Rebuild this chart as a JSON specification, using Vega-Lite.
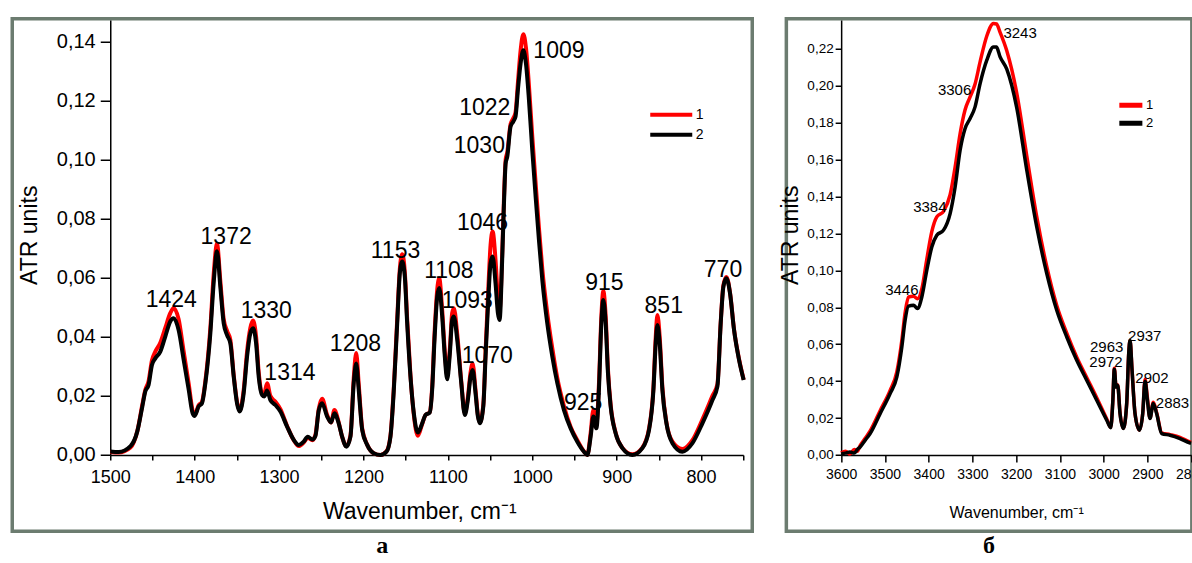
{
  "$schema": "https://vega.github.io/schema/vega-lite/v6.json",
  "background": "white",
  "padding": {"left": 10.25, "top": 13.75, "right": 0, "bottom": 0},
  "spacing": 23.1,
  "config": {
    "font": "Liberation Sans",
    "view": {"stroke": "#6c7c70", "strokeWidth": 3.5},
    "axis": {"grid": false, "domainColor": "black", "tickColor": "black", "labelColor": "black", "titleColor": "black", "domainWidth": 1.5, "tickWidth": 1.5, "titleFontWeight": "normal", "labelFlush": false, "labelOverlap": false, "labelFont": "Liberation Sans", "titleFont": "Liberation Sans"},
    "legend": {"padding": 0, "title": null, "labelFont": "Liberation Sans", "labelColor": "black"},
    "title": {"color": "black"}
  },
  "resolve": {"scale": {"color": "independent", "x": "independent", "y": "independent"}, "legend": {"color": "independent"}},
  "datasets": {
    "a": [
      {"w":1500,"1":0.001,"2":0.0012},{"w":1490,"1":0.0008,"2":0.001},{"w":1476,"1":0.0025,"2":0.003},{"w":1468,"1":0.008,"2":0.0079},
      {"w":1462,"1":0.017,"2":0.0164},{"w":1458.5,"1":0.022,"2":0.0215},{"w":1454.6,"1":0.025,"2":0.0237},{"w":1450.6,"1":0.032,"2":0.0305},
      {"w":1446.6,"1":0.035,"2":0.0327},{"w":1440.7,"1":0.038,"2":0.035},{"w":1434.8,"1":0.043,"2":0.0401},{"w":1428.9,"1":0.048,"2":0.0452},
      {"w":1425,"1":0.0497,"2":0.0463},{"w":1419,"1":0.046,"2":0.0423},{"w":1413,"1":0.035,"2":0.0322},{"w":1407,"1":0.024,"2":0.022},
      {"w":1402.4,"1":0.015,"2":0.0141},{"w":1400,"1":0.0135,"2":0.0132},{"w":1395.3,"1":0.0168,"2":0.0164},{"w":1391.3,"1":0.018,"2":0.0175},
      {"w":1387.3,"1":0.025,"2":0.0243},{"w":1381.4,"1":0.043,"2":0.0412},{"w":1377.5,"1":0.061,"2":0.0581},{"w":1373.5,"1":0.0715,"2":0.069},
      {"w":1369.6,"1":0.059,"2":0.057},{"w":1365.6,"1":0.046,"2":0.0446},{"w":1361.6,"1":0.042,"2":0.0406},{"w":1357.7,"1":0.039,"2":0.0378},
      {"w":1353.7,"1":0.027,"2":0.0265},{"w":1349.8,"1":0.018,"2":0.0175},{"w":1346.7,"1":0.015,"2":0.0147},{"w":1341.9,"1":0.022,"2":0.0209},
      {"w":1337.9,"1":0.035,"2":0.0333},{"w":1334,"1":0.043,"2":0.0412},{"w":1330.8,"1":0.0455,"2":0.0429},{"w":1327.2,"1":0.04,"2":0.0378},
      {"w":1324.1,"1":0.028,"2":0.0265},{"w":1320.1,"1":0.021,"2":0.0203},{"w":1317.4,"1":0.021,"2":0.0198},{"w":1314.2,"1":0.0243,"2":0.0218},
      {"w":1310.3,"1":0.02,"2":0.0186},{"w":1304.3,"1":0.018,"2":0.0169},{"w":1298.4,"1":0.0155,"2":0.0147},{"w":1290.5,"1":0.0098,"2":0.0096},
      {"w":1282.6,"1":0.005,"2":0.0051},{"w":1276.7,"1":0.003,"2":0.0034},{"w":1270.8,"1":0.0042,"2":0.0045},{"w":1266,"1":0.0058,"2":0.0062},
      {"w":1260.5,"1":0.005,"2":0.0052},{"w":1256.9,"1":0.0068,"2":0.0064},{"w":1253,"1":0.0155,"2":0.015},{"w":1249,"1":0.019,"2":0.0175},
      {"w":1243,"1":0.0135,"2":0.013},{"w":1238.4,"1":0.011,"2":0.011},{"w":1234.4,"1":0.0152,"2":0.0141},{"w":1229.3,"1":0.011,"2":0.0107},
      {"w":1225.3,"1":0.0062,"2":0.0062},{"w":1220.2,"1":0.003,"2":0.0028},{"w":1215.4,"1":0.0065,"2":0.0062},{"w":1211.5,"1":0.026,"2":0.0243},
      {"w":1208.6,"1":0.0345,"2":0.031},{"w":1205.6,"1":0.024,"2":0.022},{"w":1201.5,"1":0.009,"2":0.0085},{"w":1195.6,"1":0.0035,"2":0.0034},
      {"w":1187.8,"1":0.0006,"2":0.0006},{"w":1179.8,"1":0.0,"2":0.0},{"w":1172.7,"1":0.0012,"2":0.0011},{"w":1168,"1":0.0065,"2":0.0062},
      {"w":1164,"1":0.023,"2":0.022},{"w":1160,"1":0.046,"2":0.0446},{"w":1156.9,"1":0.063,"2":0.0615},{"w":1154.1,"1":0.068,"2":0.0655},
      {"w":1151,"1":0.062,"2":0.0604},{"w":1148.2,"1":0.046,"2":0.0446},{"w":1144.3,"1":0.027,"2":0.0265},{"w":1140.3,"1":0.0135,"2":0.0141},
      {"w":1135.6,"1":0.0065,"2":0.0076},{"w":1130.4,"1":0.0105,"2":0.0107},{"w":1126.5,"1":0.0135,"2":0.0135},{"w":1121.4,"1":0.0145,"2":0.0144},
      {"w":1118.6,"1":0.023,"2":0.022},{"w":1115.8,"1":0.041,"2":0.039},{"w":1112.6,"1":0.056,"2":0.0536},{"w":1110.2,"1":0.0598,"2":0.0565},
      {"w":1106.7,"1":0.049,"2":0.0469},{"w":1103.6,"1":0.035,"2":0.0333},{"w":1100.8,"1":0.027,"2":0.0256},{"w":1097.6,"1":0.036,"2":0.0344},
      {"w":1094.9,"1":0.048,"2":0.0457},{"w":1092.9,"1":0.0497,"2":0.0469},{"w":1088.9,"1":0.041,"2":0.039},{"w":1084.1,"1":0.025,"2":0.0243},
      {"w":1079.9,"1":0.014,"2":0.0135},{"w":1076.3,"1":0.0195,"2":0.0186},{"w":1073.1,"1":0.028,"2":0.0265},{"w":1070.7,"1":0.031,"2":0.0288},
      {"w":1067.2,"1":0.022,"2":0.0209},{"w":1064.4,"1":0.0135,"2":0.013},{"w":1062.1,"1":0.011,"2":0.0107},{"w":1058,"1":0.017,"2":0.0164},
      {"w":1055.3,"1":0.035,"2":0.0333},{"w":1052.1,"1":0.056,"2":0.0525},{"w":1049.4,"1":0.071,"2":0.0649},{"w":1047,"1":0.0757,"2":0.0672},
      {"w":1043.5,"1":0.066,"2":0.0581},{"w":1040.7,"1":0.053,"2":0.048},{"w":1038.7,"1":0.049,"2":0.0457},{"w":1035.5,"1":0.069,"2":0.0672},
      {"w":1033.5,"1":0.087,"2":0.0852},{"w":1031.5,"1":0.1,"2":0.0988},{"w":1029.6,"1":0.1025,"2":0.101},{"w":1025.7,"1":0.112,"2":0.1112},
      {"w":1022.5,"1":0.114,"2":0.1129},{"w":1019.8,"1":0.116,"2":0.1146},{"w":1017,"1":0.126,"2":0.1236},{"w":1013.8,"1":0.137,"2":0.1326},
      {"w":1010.6,"1":0.1425,"2":0.137},{"w":1007.5,"1":0.138,"2":0.1326},{"w":1003.9,"1":0.125,"2":0.1202},{"w":1000,"1":0.108,"2":0.1033},
      {"w":996,"1":0.092,"2":0.0875},{"w":992.1,"1":0.077,"2":0.0728},{"w":988.1,"1":0.063,"2":0.0593},{"w":982.2,"1":0.048,"2":0.0446},
      {"w":976.2,"1":0.036,"2":0.0333},{"w":970.3,"1":0.026,"2":0.0243},{"w":962.4,"1":0.0165,"2":0.0152},{"w":954.5,"1":0.0095,"2":0.009},
      {"w":946.6,"1":0.005,"2":0.0045},{"w":938.7,"1":0.0012,"2":0.0011},{"w":934.7,"1":0.0,"2":0.0},{"w":930.8,"1":0.0075,"2":0.0062},
      {"w":927.6,"1":0.0152,"2":0.013},{"w":924,"1":0.0105,"2":0.009},{"w":921,"1":0.024,"2":0.022},{"w":918.1,"1":0.047,"2":0.0446},
      {"w":915.8,"1":0.0555,"2":0.0525},{"w":913,"1":0.047,"2":0.0446},{"w":910.3,"1":0.029,"2":0.0277},{"w":907.1,"1":0.017,"2":0.0164},
      {"w":901.2,"1":0.0075,"2":0.0073},{"w":893.2,"1":0.0024,"2":0.0023},{"w":881.4,"1":0.0002,"2":0.0},{"w":869.5,"1":0.0025,"2":0.0023},
      {"w":861.6,"1":0.009,"2":0.0085},{"w":856.4,"1":0.023,"2":0.022},{"w":853.7,"1":0.04,"2":0.0378},{"w":851.7,"1":0.0474,"2":0.044},
      {"w":849,"1":0.04,"2":0.0378},{"w":845.8,"1":0.023,"2":0.022},{"w":841,"1":0.011,"2":0.0107},{"w":833.9,"1":0.0045,"2":0.004},
      {"w":822.1,"1":0.002,"2":0.0011},{"w":810.2,"1":0.005,"2":0.004},{"w":798.4,"1":0.012,"2":0.0107},{"w":786.5,"1":0.02,"2":0.0186},
      {"w":780.6,"1":0.024,"2":0.0232},{"w":776.7,"1":0.045,"2":0.0446},{"w":773.5,"1":0.0575,"2":0.057},{"w":770,"1":0.0603,"2":0.0598},
      {"w":765.7,"1":0.055,"2":0.0548},{"w":760.9,"1":0.0425,"2":0.0423},{"w":755,"1":0.0325,"2":0.0322},{"w":749.5,"1":0.0255,"2":0.0254}
    ],
    "b": [
      {"w":3600,"1":0.001,"2":0.0008},{"w":3590,"1":0.002,"2":0.001},{"w":3580,"1":0.0005,"2":0.0016},{"w":3570,"1":0.003,"2":0.001},
      {"w":3563,"1":0.002,"2":0.003},{"w":3556.6,"1":0.005,"2":0.0043},{"w":3545,"1":0.009,"2":0.008},{"w":3533.7,"1":0.013,"2":0.0116},
      {"w":3510.9,"1":0.024,"2":0.0224},{"w":3488,"1":0.035,"2":0.0333},{"w":3472.7,"1":0.045,"2":0.0423},{"w":3461.3,"1":0.062,"2":0.0585},
      {"w":3453.8,"1":0.077,"2":0.073},{"w":3446,"1":0.0856,"2":0.0806},{"w":3434.6,"1":0.086,"2":0.0811},{"w":3425.5,"1":0.0847,"2":0.0793},
      {"w":3415.6,"1":0.09,"2":0.0856},{"w":3404.2,"1":0.106,"2":0.1001},{"w":3392.8,"1":0.121,"2":0.1127},{"w":3381.4,"1":0.129,"2":0.119},
      {"w":3366,"1":0.132,"2":0.1218},{"w":3350.9,"1":0.141,"2":0.1308},{"w":3339.5,"1":0.156,"2":0.1452},{"w":3328.1,"1":0.174,"2":0.1651},
      {"w":3316.7,"1":0.187,"2":0.1769},{"w":3305.3,"1":0.194,"2":0.1823},{"w":3293.9,"1":0.201,"2":0.1886},{"w":3282.4,"1":0.213,"2":0.2012},
      {"w":3267.1,"1":0.227,"2":0.2139},{"w":3251.8,"1":0.2338,"2":0.2211},{"w":3245,"1":0.2335,"2":0.221},{"w":3236.7,"1":0.229,"2":0.2157},
      {"w":3221.4,"1":0.219,"2":0.209},{"w":3198.6,"1":0.196,"2":0.188},{"w":3175.7,"1":0.162,"2":0.1543},{"w":3152.9,"1":0.129,"2":0.1235},
      {"w":3130,"1":0.102,"2":0.0983},{"w":3107.2,"1":0.081,"2":0.0784},{"w":3084.3,"1":0.066,"2":0.0639},{"w":3061.5,"1":0.053,"2":0.0513},
      {"w":3038.7,"1":0.042,"2":0.0405},{"w":3015.8,"1":0.031,"2":0.0296},{"w":2992.9,"1":0.0195,"2":0.0188},{"w":2983.8,"1":0.015,"2":0.0148},
      {"w":2979.3,"1":0.028,"2":0.0279},{"w":2975.5,"1":0.047,"2":0.0465},{"w":2971.7,"1":0.037,"2":0.0368},{"w":2967.9,"1":0.038,"2":0.0378},
      {"w":2962.6,"1":0.023,"2":0.0224},{"w":2955,"1":0.0145,"2":0.0143},{"w":2947.3,"1":0.028,"2":0.0279},{"w":2942.7,"1":0.055,"2":0.0549},
      {"w":2939.7,"1":0.062,"2":0.0622},{"w":2935.1,"1":0.046,"2":0.0459},{"w":2928.3,"1":0.0225,"2":0.0224},{"w":2918.3,"1":0.0135,"2":0.0134},
      {"w":2910.7,"1":0.0225,"2":0.0224},{"w":2905.4,"1":0.041,"2":0.04},{"w":2900,"1":0.031,"2":0.0296},{"w":2894.1,"1":0.02,"2":0.0197},
      {"w":2886.6,"1":0.0285,"2":0.0279},{"w":2878.9,"1":0.023,"2":0.0224},{"w":2867.3,"1":0.012,"2":0.0116},{"w":2848.3,"1":0.011,"2":0.0107},
      {"w":2825.5,"1":0.0095,"2":0.0089},{"w":2802.6,"1":0.007,"2":0.0065},{"w":2800,"1":0.0068,"2":0.0064}
    ],
    "la": [
      {"w":1427.7,"v":0.05,"t":"1424"},{"w":1362.7,"v":0.0714,"t":"1372"},{"w":1315.2,"v":0.0463,"t":"1330"},
      {"w":1287.1,"v":0.0254,"t":"1314"},{"w":1209.5,"v":0.0352,"t":"1208"},{"w":1162,"v":0.0666,"t":"1153"},
      {"w":1098.8,"v":0.0598,"t":"1108"},{"w":1077,"v":0.0497,"t":"1093"},{"w":1053.3,"v":0.031,"t":"1070"},
      {"w":1058.9,"v":0.0762,"t":"1046"},{"w":1062.7,"v":0.1022,"t":"1030"},{"w":1056.3,"v":0.1151,"t":"1022"},
      {"w":968.4,"v":0.1343,"t":"1009"},{"w":939.7,"v":0.0152,"t":"925"},{"w":914.6,"v":0.0559,"t":"915"},
      {"w":844.2,"v":0.0482,"t":"851"},{"w":774,"v":0.0601,"t":"770"}
    ],
    "lb": [
      {"w":3191,"v":0.2258,"t":"3243"},{"w":3340.7,"v":0.1951,"t":"3306"},{"w":3397.3,"v":0.1319,"t":"3384"},
      {"w":3461.3,"v":0.0864,"t":"3446"},{"w":2993,"v":0.056,"t":"2963"},{"w":2994.6,"v":0.0475,"t":"2972"},
      {"w":2906.1,"v":0.062,"t":"2937"},{"w":2889.5,"v":0.0389,"t":"2902"},{"w":2842.6,"v":0.0253,"t":"2883"}
    ]
  },
  "hconcat": [
    {
      "width": 740,
      "height": 512.5,
      "title": {"text": "а", "orient": "bottom", "font": "Liberation Serif", "fontWeight": "bold", "fontSize": 24, "baseline": "alphabetic", "offset": 22, "anchor": "middle"},
      "layer": [
        {
          "data": {"name": "a"},
          "transform": [{"fold": ["1", "2"], "as": ["s", "v"]}],
          "mark": {"type": "line", "strokeWidth": 4, "clip": false, "interpolate": "monotone"},
          "encoding": {
            "x": {"field": "w", "type": "quantitative",
              "scale": {"domain": [750, 1500], "range": [731, 98], "nice": false, "zero": false},
              "axis": {"orient": "bottom", "offset": -76.3,
                "values": [750,800,850,900,950,1000,1050,1100,1150,1200,1250,1300,1350,1400,1450,1500],
                "labelExpr": "datum.value % 100 === 0 ? format(datum.value, 'd') : ''",
                "tickSize": 5, "labelFontSize": 18, "labelPadding": 9,
                "title": "Wavenumber, cm⁻¹", "titleFontSize": 23, "titleBaseline": "alphabetic", "titleY": 63.5, "titleX": 407}},
            "y": {"field": "v", "type": "quantitative",
              "scale": {"domain": [0, 0.1473], "range": [436.2, 1.2], "nice": false, "zero": false},
              "axis": {"orient": "left", "offset": -98,
                "values": [0,0.01,0.02,0.03,0.04,0.05,0.06,0.07,0.08,0.09,0.1,0.11,0.12,0.13,0.14],
                "labelExpr": "round(datum.value*100) % 2 === 0 ? replace(format(datum.value, '.2f'), '.', ',') : ''",
                "tickSize": {"condition": {"test": "round(datum.value*100) % 2 === 0", "value": 10}, "value": 5},
                "labelFontSize": 20, "labelPadding": 5,
                "title": "ATR units", "titleFontSize": 23, "titleBaseline": "alphabetic", "titleX": -74, "titleY": 216}},
            "color": {"field": "s", "type": "nominal",
              "scale": {"domain": ["1", "2"], "range": ["#ff0000", "#000000"]},
              "legend": {"orient": "none", "legendX": 650, "legendY": 87, "symbolType": "M-3,0H3", "symbolSize": 196, "symbolStrokeWidth": 4, "labelFontSize": 14, "labelOffset": 15.5, "rowPadding": 3}}
          }
        },
        {
          "data": {"name": "la"},
          "mark": {"type": "text", "fontSize": 23, "align": "center", "baseline": "alphabetic", "color": "black"},
          "encoding": {
            "x": {"field": "w", "type": "quantitative"},
            "y": {"field": "v", "type": "quantitative"},
            "text": {"field": "t"}
          }
        }
      ]
    },
    {
      "width": 405.5,
      "height": 512.5,
      "title": {"text": "б", "orient": "bottom", "font": "Liberation Serif", "fontWeight": "bold", "fontSize": 24, "baseline": "alphabetic", "offset": 22, "anchor": "middle"},
      "layer": [
        {
          "data": {"name": "b"},
          "transform": [{"fold": ["1", "2"], "as": ["s", "v"]}],
          "mark": {"type": "line", "strokeWidth": 3.5, "clip": false, "interpolate": "monotone"},
          "encoding": {
            "x": {"field": "w", "type": "quantitative",
              "scale": {"domain": [2800, 3600], "range": [404.8, 54.8], "nice": false, "zero": false},
              "axis": {"orient": "bottom", "offset": -76.3,
                "values": [2800,2850,2900,2950,3000,3050,3100,3150,3200,3250,3300,3350,3400,3450,3500,3550,3600],
                "labelExpr": "datum.value % 100 === 0 ? format(datum.value, 'd') : ''",
                "tickSize": 7, "labelFontSize": 14, "labelPadding": 6,
                "title": "Wavenumber, cm⁻¹", "titleFontSize": 16, "titleBaseline": "alphabetic", "titleY": 63}},
            "y": {"field": "v", "type": "quantitative",
              "scale": {"domain": [0, 0.2357], "range": [436.2, 1.2], "nice": false, "zero": false},
              "axis": {"orient": "left", "offset": -54.8,
                "values": [0,0.01,0.02,0.03,0.04,0.05,0.06,0.07,0.08,0.09,0.1,0.11,0.12,0.13,0.14,0.15,0.16,0.17,0.18,0.19,0.2,0.21,0.22,0.23],
                "labelExpr": "round(datum.value*100) % 2 === 0 ? replace(format(datum.value, '.2f'), '.', ',') : ''",
                "tickSize": {"condition": {"test": "round(datum.value*100) % 2 === 0", "value": 6}, "value": 3},
                "labelFontSize": 13.5, "labelPadding": 2,
                "title": "ATR units", "titleFontSize": 23, "titleBaseline": "alphabetic", "titleX": -44, "titleY": 216}},
            "color": {"field": "s", "type": "nominal",
              "scale": {"domain": ["1", "2"], "range": ["#ff0000", "#000000"]},
              "legend": {"orient": "none", "legendX": 338, "legendY": 80, "symbolType": "M-3,0H3", "symbolSize": 59, "symbolStrokeWidth": 5, "labelFontSize": 13, "labelOffset": 8.7, "rowPadding": -3}}
          }
        },
        {
          "data": {"name": "lb"},
          "mark": {"type": "text", "fontSize": 15, "align": "center", "baseline": "alphabetic", "color": "black"},
          "encoding": {
            "x": {"field": "w", "type": "quantitative"},
            "y": {"field": "v", "type": "quantitative"},
            "text": {"field": "t"}
          }
        }
      ]
    }
  ]
}
